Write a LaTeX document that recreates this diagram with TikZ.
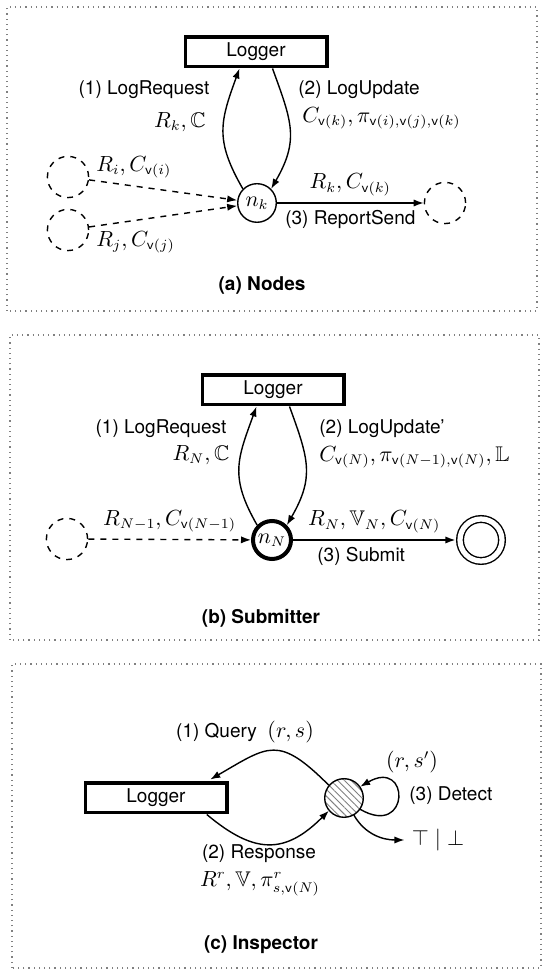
\documentclass[tikz,border=0pt]{standalone}
\usepackage{amssymb}
\usepackage[no-math]{fontspec}
\setmainfont{TeX Gyre Heros}
\usetikzlibrary{arrows.meta, patterns.meta, positioning}

\begin{document}
\begin{tikzpicture}[x=0.5pt, y=0.5pt, line width=0.7pt,
    font=\fontsize{9.5}{11}\selectfont,
    mth/.style={font=\fontsize{10.6}{12}\selectfont},
    logger/.style={draw, line width=1.75pt, minimum width=70.75pt, minimum height=14.75pt, inner sep=0pt},
    state/.style={draw, circle, minimum size=19.3pt, inner sep=0pt, mth},
    ghost/.style={draw, circle, dashed, minimum size=20.6pt, inner sep=0pt},
    frame/.style={draw=gray, dotted, line width=0.6pt},
    msg/.style={-{Latex[length=5pt, width=3.6pt]}}]
                        \useasboundingbox (0,0) rectangle (550,979);
                        \draw[frame] (7,668) rectangle (537,972);
                        \draw[frame] (10,339) rectangle (539,644);
                        \draw[frame] (12,11) rectangle (541,315);
                        % (a) nodes
                        \node[logger] (la) at (256,927) {Logger};
                        \node[state] (nk) at (257,776) {$n_k$};
                        \node[ghost] (gi) at (68,802) {};
                        \node[ghost] (gj) at (68,749) {};
                        \node[ghost] (go) at (445,776) {};
                        \node (rqa) at (144,889) {(1) LogRequest};
                        \node[mth] (rka) at (180,857) {$R_k, \mathbb{C}$};
                        \node[anchor=west] (upa) at (291,889) {(2) LogUpdate};
                        \node[mth, anchor=west] (cka) at (295,861) {$C_{\mathsf{v}(k)}, \pi_{\mathsf{v}(i),\mathsf{v}(j),\mathsf{v}(k)}$};
                        \node[mth, anchor=west] (ri) at (89,812) {$R_i, C_{\mathsf{v}(i)}$};
                        \node[mth, anchor=west] (rj) at (89,737) {$R_j, C_{\mathsf{v}(j)}$};
                        \node (capa) at (262,694) {\textbf{(a) Nodes}};
                        \draw[msg] (nk.135) to[out=120, in=-110, looseness=1.2] (la.225);
                        \draw[msg] (la.-45) to[out=-70, in=60, looseness=1.2] (nk.45);
                        \draw[msg, dashed] (gi) -- (nk);
                        \draw[msg, dashed] (gj) -- (nk);
                        \draw[msg] (nk) -- node[mth, above] {$R_k, C_{\mathsf{v}(k)}$} node[below] {(3) ReportSend} (go);
                        % (b) submitter
                        \node[logger] (lb) at (273,589) {Logger};
                        \node[state, line width=2pt, minimum size=19pt] (nn) at (272,439) {$n_N$};
                        \node[ghost] (gp) at (67,440) {};
                        \node[circle, draw, double, double distance=2.6pt, minimum size=21pt, outer sep=2.3pt] (fin) at (481,439) {};
                        \node (rqb) at (161,550) {(1) LogRequest};
                        \node[mth] (rnb) at (201,524) {$R_N, \mathbb{C}$};
                        \node[anchor=west] (upb) at (312,550) {(2) LogUpdate'};
                        \node[mth, anchor=west] (cnb) at (312,522) {$C_{\mathsf{v}(N)}, \pi_{\mathsf{v}(N-1),\mathsf{v}(N)}, \mathbb{L}$};
                        \node (capb) at (261,361) {\textbf{(b) Submitter}};
                        \draw[msg] (nn.135) to[out=120, in=-110, looseness=1.2] (lb.225);
                        \draw[msg] (lb.-45) to[out=-70, in=60, looseness=1.2] (nn.45);
                        \draw[msg, dashed] (gp) -- node[mth, above] {$R_{N-1}, C_{\mathsf{v}(N-1)}$} (nn);
                        \draw[msg] (nn) -- node[mth, above] {$R_N, \mathbb{V}_N, C_{\mathsf{v}(N)}$} node[below, pos=0.42] {(3) Submit} (fin);
                        % (c) inspector
                        \node[logger] (lc) at (156,181) {Logger};
                        \node[state, pattern={Lines[angle=-45, distance=2.4pt, line width=0.45pt]}, pattern color=gray] (hc) at (344,181) {};
                        \node (qry) at (245,247) {(1) Query\ \ \fontsize{10.6}{12}\selectfont$(r,s)$};
                        \node[mth] (rsp) at (412,217) {$(r,s')$};
                        \node[anchor=west] (det) at (402,183) {(3) Detect};
                        \node[mth] (res) at (438,139) {$\top \mid \bot$};
                        \node[inner sep=1pt] (rspc) at (259,125) {(2) Response};
                        \node[mth, inner sep=1pt] (rrv) at (260,95) {$R^r, \mathbb{V}, \pi^r_{s,\mathsf{v}(N)}$};
                        \node (capc) at (261,34) {\textbf{(c) Inspector}};
                        \draw[msg, shorten >=2pt] (hc.140) to[out=135, in=30, looseness=1.5] (lc.18);
                        \draw[msg] (lc.-18) to[out=-40, in=-135, looseness=1.3] (hc.-140);
                        \draw[msg] (hc.-35) .. controls +(-30:58) and +(30:58) .. (hc.35);
                        \draw[msg] (hc.-60) to[out=-60, in=180] (res.west);
                    \end{tikzpicture}
\end{document}
